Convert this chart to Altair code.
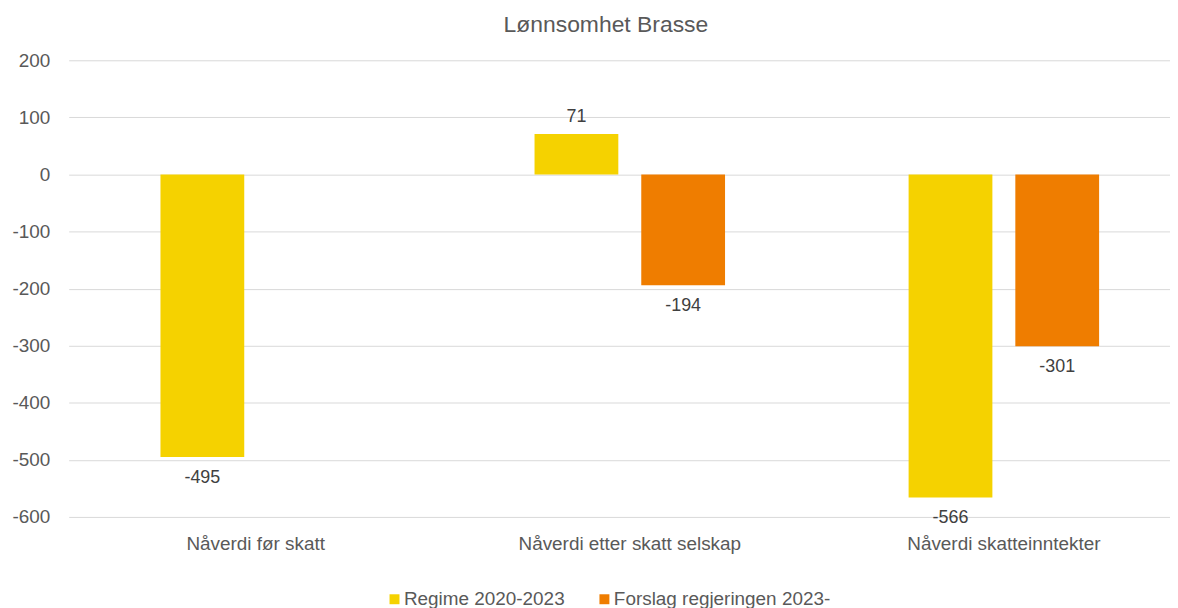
import altair as alt
import pandas as pd

categories = ["Nåverdi før skatt", "Nåverdi etter skatt selskap", "Nåverdi skatteinntekter"]
series = ["Regime 2020-2023", "Forslag regjeringen 2023-"]
regime = [-495, 71, -566]
forslag = [None, -194, -301]
colors = ["#F5D200", "#EF7D00"]
y_ticks = [-600, -500, -400, -300, -200, -100, 0, 100, 200]

rows = []
for c, v in zip(categories, regime):
    rows.append({"kategori": c, "serie": series[0], "verdi": v})
for c, v in zip(categories, forslag):
    if v is not None:
        rows.append({"kategori": c, "serie": series[1], "verdi": v})
df = pd.DataFrame(rows)

FONT = "Liberation Sans"
W, H = 1110, 459

base = alt.Chart(df).encode(
    x=alt.X(
        "kategori:N",
        sort=categories,
        scale=alt.Scale(range=[3, 1131], paddingInner=0, paddingOuter=0),
        axis=alt.Axis(title=None, labelAngle=0, domain=False, ticks=False,
                      labelPadding=18, labelFontSize=19, labelColor="#595959",
                      labelFont=FONT, grid=False, labelLimit=500),
    ),
    xOffset=alt.XOffset(
        "serie:N", sort=series,
        scale=alt.Scale(domain=series, paddingInner=0.215, paddingOuter=0.86),
    ),
    y=alt.Y(
        "verdi:Q",
        scale=alt.Scale(domain=[-600, 200], nice=False, zero=True),
        axis=alt.Axis(title=None, values=y_ticks, domain=False, ticks=False,
                      labelPadding=16, labelFontSize=19, labelColor="#595959",
                      labelFont=FONT, gridColor="#D9D9D9", gridWidth=1,
                      labelExpr="toString(datum.value)"),
    ),
)

bars = base.mark_bar().encode(
    color=alt.Color(
        "serie:N", sort=series,
        scale=alt.Scale(domain=series, range=colors),
        legend=alt.Legend(title=None, orient="none", legendX=321, legendY=532,
                          direction="horizontal", symbolType="square",
                          symbolSize=100, symbolStrokeWidth=0,
                          labelFontSize=19, labelColor="#595959", labelFont=FONT,
                          columnPadding=30, labelOffset=0, labelLimit=500),
    )
)

labels = base.transform_calculate(lbl="toString(datum.verdi)")

neg = labels.transform_filter("datum.verdi < 0").mark_text(
    dy=21, fontSize=18, color="#404040", font=FONT, baseline="middle"
).encode(text=alt.Text("lbl:N"))

pos = labels.transform_filter("datum.verdi >= 0").mark_text(
    dy=-17, fontSize=18, color="#404040", font=FONT, baseline="middle"
).encode(text=alt.Text("lbl:N"))

chart = alt.layer(bars, neg, pos).properties(
    width=W,
    height=H,
    title=alt.Title("Lønnsomhet Brasse", fontSize=23, font=FONT, color="#595959",
                    fontWeight="normal", anchor="middle", offset=14,
                    dx=609 - (66 + W / 2)),
    autosize=alt.AutoSizeParams(type="none"),
    padding={"left": 58, "top": 51, "right": 0, "bottom": 90},
).configure_view(stroke=None)

chart.save("out.html", embed_options={"renderer": "svg", "actions": False})
